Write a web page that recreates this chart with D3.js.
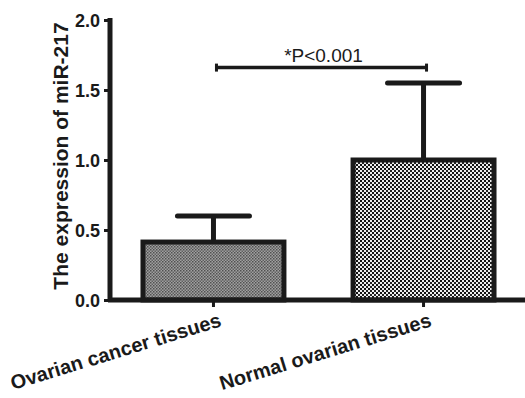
<!DOCTYPE html>
<html><head><meta charset="utf-8">
<script src="https://cdn.jsdelivr.net/npm/d3@7"></script>
<style>body{margin:0;background:#fff}svg{display:block}</style>
</head><body>
<script>
const categories = ["Ovarian cancer tissues", "Normal ovarian tissues"];
const means = [0.414, 1.0];
const errTop = [0.6, 1.55];
const yTicks = [0, 0.5, 1.0, 1.5, 2.0];
const yLabel = "The expression of miR-217";
const sigText = "*P<0.001";
const sigLevel = 1.66;

const W = 525, H = 398;
const svg = d3.select("body").append("svg").attr("width", W).attr("height", H);
const defs = svg.append("defs");
const p1 = defs.append("pattern").attr("id","pat1").attr("patternUnits","userSpaceOnUse").attr("width",3).attr("height",3);
p1.append("rect").attr("width",3).attr("height",3).attr("fill","#a0a0a0");
p1.append("rect").attr("width",1.5).attr("height",1.5).attr("fill","#505050");
p1.append("rect").attr("x",1.5).attr("y",1.5).attr("width",1.5).attr("height",1.5).attr("fill","#606060");
const p2 = defs.append("pattern").attr("id","pat2").attr("patternUnits","userSpaceOnUse").attr("width",4).attr("height",4);
p2.append("rect").attr("width",4).attr("height",4).attr("fill","#eeeeee");
p2.append("rect").attr("width",2).attr("height",2).attr("fill","#111");
p2.append("rect").attr("x",2).attr("y",2).attr("width",2).attr("height",2).attr("fill","#222");

const x0 = 110, y0 = 300;
const x = d3.scaleBand().domain(categories).range([x0, 527]).paddingInner(0.329).paddingOuter(0.157);
const y = d3.scaleLinear().domain([0, 2]).range([y0, 20]);
const font = "'Liberation Sans', Arial, sans-serif";
const ink = "#1a1a1a";
const lw = 5;

// bars
svg.selectAll("rect.bar").data(categories).enter().append("rect")
  .attr("x", d => x(d)).attr("y", (d,i) => y(means[i]))
  .attr("width", x.bandwidth()).attr("height", (d,i) => y(0) - y(means[i]))
  .attr("fill", (d,i) => i === 0 ? "url(#pat1)" : "url(#pat2)")
  .attr("stroke", ink).attr("stroke-width", lw);

// error bars
const capW = 72;
categories.forEach((c,i) => {
  const cx = x(c) + x.bandwidth()/2;
  svg.append("line").attr("x1",cx).attr("x2",cx).attr("y1",y(means[i])-2).attr("y2",y(errTop[i]))
    .attr("stroke",ink).attr("stroke-width",lw);
  svg.append("line").attr("x1",cx-capW/2).attr("x2",cx+capW/2).attr("y1",y(errTop[i])).attr("y2",y(errTop[i]))
    .attr("stroke",ink).attr("stroke-width",lw).attr("stroke-linecap","round");
});

// y axis
const yAxis = svg.append("g").attr("transform",`translate(${x0},0)`)
  .call(d3.axisLeft(y).tickValues(yTicks).tickFormat(d3.format(".1f")).tickSize(6).tickPadding(4));
yAxis.select(".domain").attr("d", `M0,${y(2)-2}V${y0}`).attr("stroke",ink).attr("stroke-width",lw);
yAxis.selectAll(".tick line").attr("stroke",ink).attr("stroke-width",3);
yAxis.selectAll(".tick text").attr("font-family",font).attr("font-weight","bold").attr("font-size",18).attr("fill",ink).attr("dy","0.36em");

// x axis
const xAxis = svg.append("g").attr("transform",`translate(0,${y0})`)
  .call(d3.axisBottom(x).tickSize(7).tickPadding(6));
xAxis.select(".domain").attr("d", `M${x0-2},0H525`).attr("stroke",ink).attr("stroke-width",lw);
xAxis.selectAll(".tick line").attr("stroke",ink).attr("stroke-width",3);
xAxis.selectAll(".tick text").attr("font-family",font).attr("font-weight","bold").attr("font-size",20).attr("fill",ink)
  .attr("text-anchor","end").attr("dy","0").attr("transform","translate(9,26) rotate(-17)").attr("y",0).attr("x",0);

// y label
svg.append("text").attr("transform",`translate(68,156) rotate(-90)`)
  .attr("text-anchor","middle").attr("font-family",font).attr("font-weight","bold").attr("font-size",21).attr("fill",ink)
  .text(yLabel);

// significance bracket
const c1 = x(categories[0]) + x.bandwidth()/2 + 3, c2 = x(categories[1]) + x.bandwidth()/2 + 3;
const sy = y(sigLevel);
svg.append("line").attr("x1",c1).attr("x2",c2).attr("y1",sy).attr("y2",sy).attr("stroke",ink).attr("stroke-width",3.5);
[c1,c2].forEach(cx => svg.append("line").attr("x1",cx).attr("x2",cx).attr("y1",sy-4).attr("y2",sy+4).attr("stroke",ink).attr("stroke-width",3));
svg.append("text").attr("x",(c1+c2)/2+2).attr("y",sy-6).attr("text-anchor","middle")
  .attr("font-family",font).attr("font-size",19).attr("fill",ink).text(sigText);
</script>
</body></html>
